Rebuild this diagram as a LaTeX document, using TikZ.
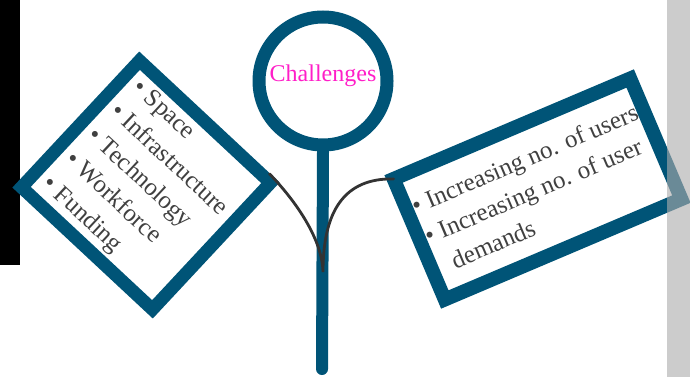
\documentclass[tikz,border=0pt]{standalone}
\usepackage{fontspec}
\setmainfont{Liberation Serif}
\usetikzlibrary{calc}
\definecolor{frameblue}{RGB}{0,84,119}
\definecolor{titlepink}{RGB}{255,30,200}
\definecolor{bodytext}{RGB}{64,64,64}
\definecolor{linkgray}{RGB}{51,51,51}
\definecolor{sidebar}{RGB}{172,172,172}
\tikzset{
  panel/.style={draw=frameblue, line width=13pt, outer sep=0pt, rectangle,
    align=left, text=bodytext, font=\fontsize{25}{33}\selectfont},
  hub/.style={draw=frameblue, line width=13pt, circle, minimum size=128pt},
  stem/.style={draw=frameblue, line width=12pt, line cap=round},
  link/.style={draw=linkgray, line width=2.8pt, line cap=round},
  title/.style={text=titlepink, font=\fontsize{24}{28}\selectfont}
}
\begin{document}
\begin{tikzpicture}[x=1pt, y=-1pt]
  \useasboundingbox (0,0) rectangle (690,377);
  % left edge strip
  \fill[black] (0,0) rectangle (20,265);

  % central figure: circle on a stem
  \node[hub] (C) at (323,81) {};
  \node[title] (T) at ([yshift=5pt]C.center) {Challenges};
  \coordinate (base) at (322,369);
  \coordinate (dip) at (323,272);
  \draw[stem] (C.south) -- (base);

  % left panel
  \node[panel, rotate=-43, minimum width=179pt, minimum height=173pt] (L) at (146,185)
    {\textbullet\ Space\\
     \textbullet\ Infrastructure\\
     \textbullet\ Technology\\
     \textbullet\ Workforce\\
     \textbullet\ Funding};

  % right panel
  \node[panel, line width=14pt, rotate=23, minimum width=257pt, minimum height=131pt] (R) at (537.5,189)
    {\textbullet\ Increasing no. of users\\
     \textbullet\ Increasing no. of user\\
     \phantom{\textbullet\ }demands};

  % connector from the left panel down to the stem and up to the right panel
  \draw[link] ([shift={(-1,-9)}]L.north east)
      .. controls (290,195) and (322,235) .. (dip)
      .. controls (323,210) and (345,178) .. (R.north west);

  % right edge strip, laid over the panel
  \fill[sidebar, opacity=0.62] (667,0) rectangle (690,377);
\end{tikzpicture}
\end{document}
